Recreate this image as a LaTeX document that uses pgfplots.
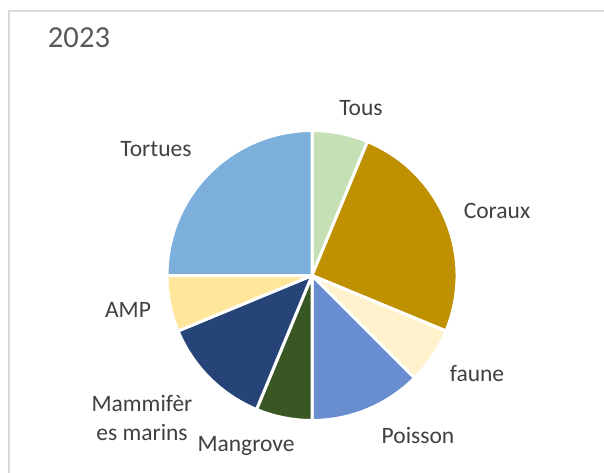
\documentclass[border=0pt]{standalone}
\usepackage{pgfplots}
\usepackage{pgfplotstable}
\pgfplotsset{compat=1.18}
\usepackage{fontspec}
\setmainfont{Carlito}
\definecolor{slice0}{HTML}{C5E0B4}
\definecolor{slice1}{HTML}{BF9000}
\definecolor{slice2}{HTML}{FFF2CC}
\definecolor{slice3}{HTML}{698ED0}
\definecolor{slice4}{HTML}{385723}
\definecolor{slice5}{HTML}{264478}
\definecolor{slice6}{HTML}{FFE699}
\definecolor{slice7}{HTML}{7DAFDD}
\definecolor{labelgray}{HTML}{404040}
\definecolor{titlegray}{HTML}{595959}
\definecolor{framegray}{HTML}{D9D9D9}
\pgfplotstableread{
label value
Tous 1
Coraux 4
faune 1
Poisson 2
Mangrove 1
Mammiferes 2
AMP 1
Tortues 4
}\piedata
\begin{document}
\begin{tikzpicture}
\useasboundingbox (0,0) rectangle (302pt,236pt);
\draw[framegray, line width=0.75pt] (4.5pt,-1pt) -- (4.5pt,230.5pt) -- (303pt,230.5pt);
\begin{axis}[hide axis, scale only axis, width=145pt, height=145pt,
  xmin=-1, xmax=1, ymin=-1, ymax=1, clip=false,
  at={(156pt,98.25pt)}, anchor=center]
\def\total{0}
\pgfplotsforeachungrouped \i in {0,...,7}{%
  \pgfplotstablegetelem{\i}{value}\of\piedata
  \pgfmathsetmacro{\total}{\total+\pgfplotsretval}%
}
\def\cum{0}
\pgfplotsforeachungrouped \i in {0,...,7}{%
  \pgfplotstablegetelem{\i}{value}\of\piedata
  \let\v\pgfplotsretval
  \pgfmathsetmacro{\a}{90-360*\cum/\total}%
  \pgfmathsetmacro{\b}{90-360*(\cum+\v)/\total}%
  \pgfmathsetmacro{\ca}{cos(\a)}%
  \pgfmathsetmacro{\sa}{sin(\a)}%
  \edef\cmd{\noexpand\fill[slice\i, draw=white, line width=1.5pt, line join=round] (axis cs:0,0) -- (axis cs:\ca,\sa) arc[start angle=\a, end angle=\b, radius=72.5pt] -- cycle;}%
  \cmd
  \pgfmathsetmacro{\cum}{\cum+\v}%
}
\end{axis}
\begin{scope}[every node/.style={text=labelgray, font=\fontsize{11.75}{14}\selectfont, inner sep=0pt}]
\node[anchor=base] at (180.5pt,178.5pt) {Tous};
\node[anchor=base] at (248.5pt,127pt) {Coraux};
\node[anchor=base] at (238.5pt,45.5pt) {faune};
\node[anchor=base] at (209pt,14.5pt) {Poisson};
\node[anchor=base] at (123pt,10.5pt) {Mangrove};
\node[anchor=base] at (71pt,30.5pt) {Mammifèr};
\node[anchor=base] at (71pt,16pt) {es marins};
\node[anchor=base] at (64pt,77.5pt) {AMP};
\node[anchor=base] at (78pt,157.5pt) {Tortues};
\end{scope}
\node[anchor=base, text=titlegray, inner sep=0pt, font=\fontsize{15.3}{18}\selectfont] at (39.5pt,212pt) {2023};
\end{tikzpicture}
\end{document}
